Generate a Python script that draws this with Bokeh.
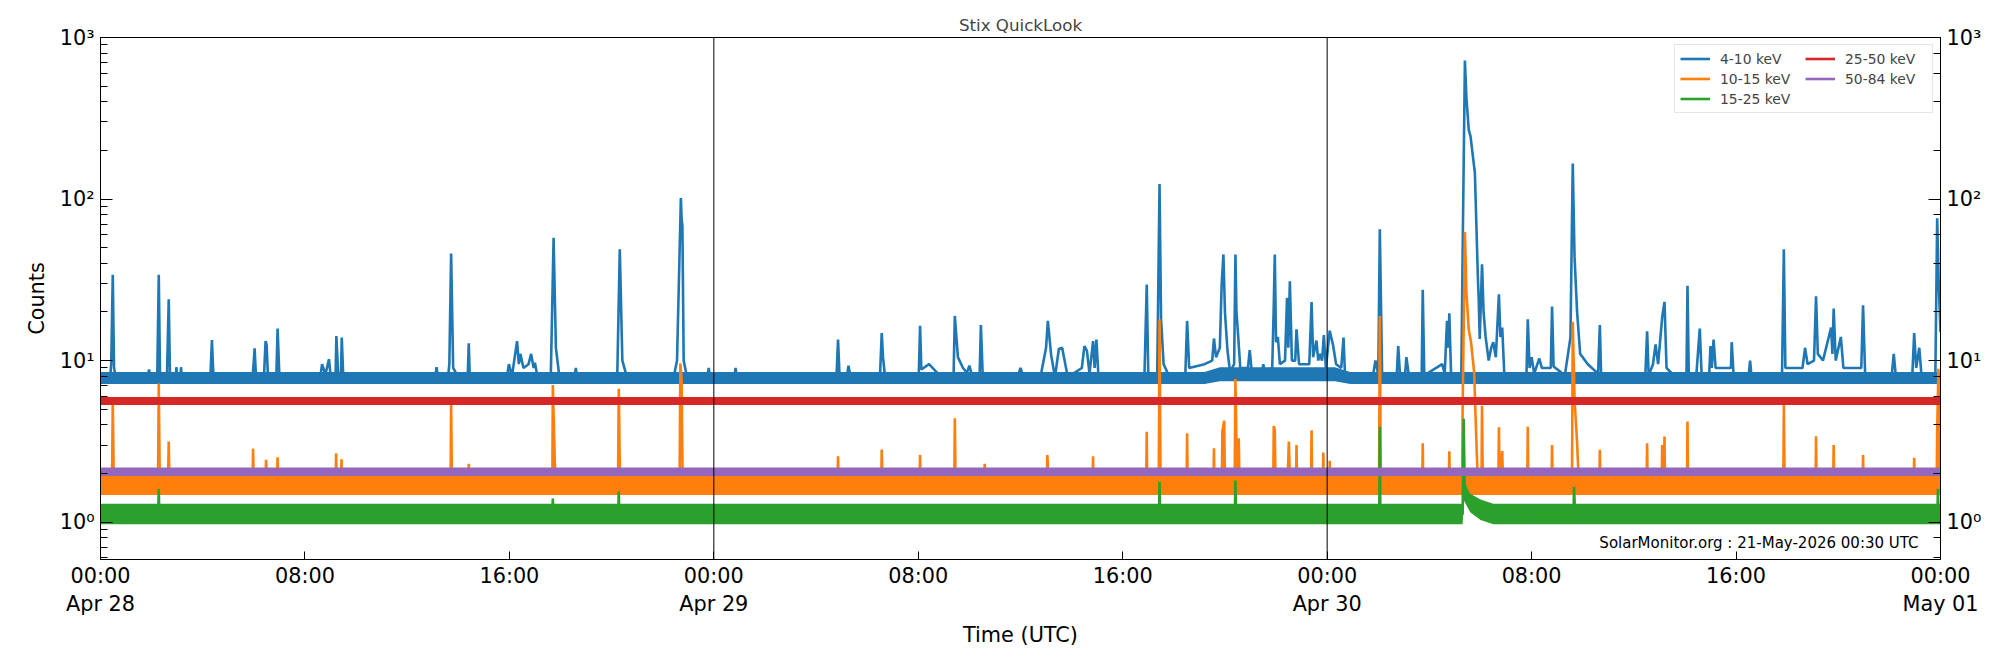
from bokeh.plotting import figure
from bokeh.models import (Range1d, LogAxis, FixedTicker, Span, Label, Legend,
                          LegendItem, CustomJSTickFormatter)
from bokeh.embed import file_html
from bokeh.resources import INLINE

# ---------------- data (hours since 2026-04-28 00:00 UTC, counts) ----------------
x_ticks = [0, 8, 16, 24, 32, 40, 48, 56, 64, 72]
x_tick_labels = ["00:00\nApr 28", "08:00", "16:00", "00:00\nApr 29", "08:00", "16:00",
                 "00:00\nApr 30", "08:00", "16:00", "00:00\nMay 01"]
day_bounds = [24, 48]
band_names = ["4-10 keV", "10-15 keV", "15-25 keV", "25-50 keV", "50-84 keV"]
band_colors = ["#1f77b4", "#ff7f0e", "#2ca02c", "#d62728", "#9467bd"]

# 4-10 keV
blue_t = [0, 0.38, 0.42, 0.48, 0.53, 0.6, 1.85, 1.9, 1.95, 2.22, 2.28, 2.33, 2.6, 2.67, 2.72,
          2.95, 2.97, 3.0, 3.13, 3.15, 3.18, 4.3, 4.36, 4.42, 5.95, 6.0, 6.03, 6.08, 6.4, 6.46,
          6.5, 6.55, 6.88, 6.93, 7.0, 8.6, 8.67, 8.8, 8.94, 9.0, 9.2, 9.23, 9.3, 9.41, 9.44,
          9.5, 13.1, 13.15, 13.2, 13.6, 13.65, 13.72, 13.8, 14.0, 14.37, 14.41, 14.45, 15.9,
          15.98, 16.1, 16.3, 16.37, 16.43, 16.55, 16.75, 16.85, 16.95, 17.0, 17.1, 17.62,
          17.73, 17.82, 17.95, 18.55, 18.6, 18.65, 20.22, 20.32, 20.42, 20.6, 22.45, 22.56,
          22.71, 22.74, 22.77, 22.82, 22.95, 23.75, 23.8, 23.85, 24.8, 24.85, 24.9,
          28.8, 28.86, 28.92, 29.2, 29.27, 29.35, 30.5, 30.57, 30.62, 30.7, 31.8, 32.02,
          32.07, 32.12, 32.42, 32.9, 33.38, 33.43, 33.55, 33.75, 33.9, 34.0, 34.1, 34.4,
          34.45, 34.52, 35.9, 36.0, 36.1, 36.8, 37.0, 37.07, 37.2, 37.35, 37.5, 37.63, 37.85,
          38.4, 38.5, 38.6, 38.7, 38.84, 38.9, 38.97, 39.05, 40.85, 40.94, 41.0, 41.35, 41.44,
          41.5, 41.6, 41.8, 42.45, 42.52, 42.6, 43.2, 43.5, 43.57, 43.65, 43.8, 43.87, 43.94,
          44.0, 44.1, 44.2, 44.36, 44.41, 44.45, 44.5, 44.6, 44.9, 44.97, 45.05, 45.45, 45.5,
          45.55, 45.85, 45.91, 45.95, 46.0, 46.07, 46.15, 46.35, 46.43, 46.48, 46.54, 46.62,
          46.75, 46.8, 46.9, 47.3, 47.39, 47.45, 47.58, 47.65, 47.71, 47.8, 47.87, 47.95,
          48.1, 48.23, 48.35, 48.55, 48.64, 48.7, 49.8, 49.89, 50.0, 50.06, 50.15, 50.3,
          50.72, 50.78, 50.85, 51.05, 51.1, 51.2, 51.7, 51.74, 51.8, 52.5, 52.6, 52.69,
          52.74, 52.78, 52.85, 53.25, 53.31, 53.39, 53.45, 53.54, 53.61, 53.78, 53.9, 53.93,
          53.97, 54.06, 54.12, 54.2, 54.32, 54.42, 54.5, 54.6, 54.72, 54.78, 54.85, 54.93,
          55.8, 55.85, 55.92, 56.0, 56.1, 56.3, 56.4, 56.75, 56.8, 56.86, 57.3, 57.52, 57.61,
          57.68, 57.78, 57.9, 58.2, 58.6, 58.67, 58.72, 60.45, 60.52, 60.58, 60.75, 60.85,
          60.95, 61.11, 61.2, 61.28, 61.6, 62.06, 62.1, 62.15, 62.45, 62.58, 62.65, 62.95,
          63.0, 63.05, 63.12, 63.2, 63.8, 63.83, 63.9, 64.5, 64.55, 64.6, 65.8, 65.87, 65.93,
          66.6, 66.7, 66.8, 67.05, 67.13, 67.2, 67.4, 67.72, 67.77, 67.82, 67.9, 68.1, 68.2,
          68.9, 68.97, 69.05, 70.1, 70.17, 70.25, 70.9, 70.97, 71.05, 71.17, 71.25, 71.8,
          71.87, 71.93, 72]
blue_v = [7.8, 8.0, 9.5, 34, 9, 7.8, 7.8, 8.8, 7.8, 7.9, 34, 7.9, 7.9, 24, 7.9,
          7.9, 9.1, 7.9, 7.9, 9.1, 7.8, 7.9, 13.4, 7.9, 7.9, 10, 11.9, 8.2, 8.2, 13.2,
          12.5, 8.1, 8.0, 15.8, 8.0, 7.9, 9.5, 8.2, 10.2, 8.2, 8.2, 14.2, 8.2, 8.2, 13.9,
          7.9, 7.9, 9.1, 7.9, 7.9, 9.5, 46, 9, 7.9, 7.9, 12.8, 7.9, 7.9,
          9.5, 8.0, 13.2, 9.5, 11, 9, 9.5, 11, 9, 9.7, 7.9, 8.0,
          57.5, 12, 8.1, 7.9, 9, 7.9, 7.9, 48.8, 10, 7.9, 8.2, 10,
          101.6, 75, 68, 10, 7.9, 7.9, 9, 7.9, 7.9, 9, 7.9,
          7.9, 13.5, 8.0, 7.9, 9.3, 7.9, 7.9, 14.8, 10.5, 7.9, 8.1, 8.2,
          16.4, 8.8, 9.5, 7.9, 7.9, 18.9, 10.5, 9, 8.4, 9.3, 8.1, 8.1,
          16.6, 8.2, 8.0, 9, 8.0, 8.2, 12, 17.6, 10.8, 7.9, 11.8, 12, 7.9,
          9, 12.3, 11.5, 8.3, 13.2, 9, 13.5, 8.0, 8.0, 29.6, 8.2, 8.2, 124,
          18, 9.5, 8.1, 8.2, 17.6, 9, 9.5, 10, 13.7, 10.5, 12, 29, 45.4,
          20, 11.5, 8.5, 9.5, 45.4, 20, 15.6, 9, 9, 11.6, 8.5, 8.5, 9.5,
          8.5, 9, 21.8, 45.4, 13, 14, 9.5, 10, 24.5, 12, 31, 10,
          10, 15.6, 9.5, 9.5, 23, 10.5, 13.3, 10, 11, 10, 14.4, 9,
          15.3, 12.5, 9.5, 9, 13.9, 8.0, 8.2, 10, 8.2, 65, 8.2, 7.9,
          8.0, 12.3, 8.2, 8.2, 10.5, 8.0, 8.1, 27.4, 8.1, 9.5, 8.3, 17.6,
          12, 19.6, 8.1, 8.3, 62, 720, 422, 268, 244, 145, 31.8, 24,
          13.6, 39.4, 20, 14, 10, 12, 13, 10.5, 25.7, 14, 16, 8.3,
          8.3, 18, 9, 10.5, 8.3, 10.3, 9, 9, 21.6, 9.2, 8.1, 13.9, 166,
          44, 20, 11, 9.5, 8.3, 16.6, 8.1, 8.1, 15.2, 8.1, 9.5, 12.6,
          9.5, 18.6, 23.1, 9, 8.0, 8.3, 29, 8.1, 8.3, 15.8, 8.3, 8.3,
          12.3, 9, 13.5, 9, 9, 13, 8.3, 8.3, 10, 8.1, 8.3, 48.8, 9,
          9, 12, 9.5, 10, 25, 11, 10, 16, 11, 21, 10, 14, 9,
          9, 22, 8.3, 8.3, 11, 8.1, 8.3, 14.8, 9, 12, 8.3, 8.3,
          76, 30, 15]

# 10-15 keV
orange_t = [0, 0.45, 0.48, 0.52, 2.25, 2.28, 2.32, 2.64, 2.67, 2.7, 5.95, 5.97, 6.0, 6.45,
            6.48, 6.51, 6.9, 6.93, 6.96, 9.2, 9.22, 9.25, 9.41, 9.43, 9.46, 13.7, 13.72,
            13.75, 14.39, 14.41, 14.43, 17.68, 17.7, 17.76, 17.8, 20.25, 20.28, 20.33, 22.66,
            22.69, 22.74, 22.78, 28.84, 28.86, 28.88, 30.55, 30.57, 30.6, 32.05, 32.07, 32.09,
            33.41, 33.43, 33.46, 34.58, 34.6, 34.62, 37.03, 37.05, 37.1, 38.82, 38.84, 38.86,
            40.92, 40.94, 40.96, 41.41, 41.44, 41.48, 42.5, 42.52, 42.54, 43.55, 43.57, 43.59,
            43.88, 43.9, 43.97, 44.0, 44.38, 44.41, 44.47, 44.54, 44.57, 45.89, 45.91, 45.95,
            45.98, 46.45, 46.5, 46.55, 46.78, 46.8, 46.82, 47.37, 47.39, 47.41, 47.83, 47.85,
            47.87, 48.08, 48.1, 48.12, 50.03, 50.06, 50.1, 51.72, 51.74, 51.76, 52.76, 52.78,
            52.8, 53.28, 53.3, 53.39, 53.45, 53.54, 53.63, 53.75, 53.85, 53.9, 54.04, 54.06,
            54.09, 54.7, 54.72, 54.75, 54.85, 54.88, 55.83, 55.85, 55.87, 56.78, 56.8, 56.82,
            57.58, 57.61, 57.68, 57.78, 57.85, 58.65, 58.67, 58.69, 60.5, 60.52, 60.54, 61.09,
            61.11, 61.13, 61.18, 61.2, 61.22, 62.08, 62.1, 62.12, 65.85, 65.87, 65.9, 67.11,
            67.13, 67.15, 67.8, 67.82, 67.84, 68.95, 68.97, 68.99, 70.95, 70.97, 70.99, 71.85,
            71.87, 71.92, 71.96, 72]
orange_v = [1.72, 1.72, 5.6, 1.72, 1.72, 7.2, 1.72, 1.72, 3.15, 1.72, 1.72, 2.85, 1.72, 1.72,
            2.43, 1.72, 1.72, 2.52, 1.72, 1.72, 2.67, 1.72, 1.72, 2.45, 1.72, 1.72, 5.7,
            1.72, 1.72, 2.3, 1.72, 1.72, 7.06, 3.0, 1.72, 1.72, 6.7, 1.72, 1.72,
            9.6, 7.4, 1.72, 1.72, 2.56, 1.72, 1.72, 2.81, 1.72, 1.72, 2.6, 1.72,
            1.72, 4.4, 1.72, 1.72, 2.3, 1.72, 1.72, 2.6, 1.72, 1.72, 2.56, 1.72,
            1.72, 3.63, 1.72, 1.72, 18.0, 1.72, 1.72, 3.55, 1.72, 1.72, 2.87, 1.72,
            1.72, 3.65, 4.25, 1.72, 1.72, 7.7, 2.0, 3.3, 1.72, 1.72, 3.93, 3.7,
            1.72, 1.72, 3.15, 1.72, 1.72, 3.0, 1.72, 1.72, 3.7, 1.72, 1.72, 2.7,
            1.72, 1.72, 2.4, 1.72, 1.72, 18.9, 1.72, 1.72, 3.08, 1.72, 1.72, 2.75,
            1.72, 1.72, 5.0, 62.4, 26.3, 15.6, 13, 8.5, 2.8, 1.72, 1.72, 5.26,
            1.72, 1.72, 3.87, 1.72, 2.75, 1.72, 1.72, 3.9, 1.72, 1.72, 3.0, 1.72,
            1.72, 17.4, 5.8, 3.1, 1.72, 1.72, 2.8, 1.72, 1.72, 3.08, 1.72, 1.72,
            3.0, 1.72, 1.72, 3.39, 1.72, 1.72, 4.19, 1.72, 1.72, 5.3, 1.72, 1.72,
            3.4, 1.72, 1.72, 3.0, 1.72, 1.72, 2.6, 1.72, 1.72, 2.5, 1.72, 1.72,
            3.7, 8.9, 1.72, 1.72]

# 15-25 keV
green_t = [0, 2.26, 2.28, 2.3, 17.68, 17.7, 17.72, 20.26, 20.28, 20.3, 41.42, 41.44, 41.46,
           44.39, 44.41, 44.43, 50.04, 50.06, 50.08, 53.3, 53.34, 53.38, 53.5, 53.8, 54.3,
           57.64, 57.66, 57.7, 71.88, 71.9, 71.92, 72]
green_v = [1.12, 1.12, 1.6, 1.12, 1.12, 1.4, 1.12, 1.12, 1.55, 1.12, 1.12, 1.78, 1.12,
           1.12, 1.8, 1.12, 1.12, 3.9, 1.12, 1.12, 4.36, 1.7, 1.45, 1.3, 1.15,
           1.12, 1.65, 1.12, 1.12, 1.6, 1.12, 1.12]

# 25-50 keV and 50-84 keV (flat)
red_t = [0, 72]
red_v = [5.6, 5.6]
purple_t = [0, 72]
purple_v = [2.05, 2.05]

# noise envelopes (low / high) of each band
env_t = [0, 72]
blue_env_t = [0, 43.2, 43.8, 48.3, 48.9, 72]
blue_lo = [7.15, 7.15, 7.45, 7.45, 7.15, 7.15]
blue_hi = [8.5, 8.5, 9.1, 9.1, 8.5, 8.5]
orange_lo, orange_hi = [1.47, 1.47], [1.95, 1.95]
red_lo, red_hi = [5.3, 5.3], [5.95, 5.95]
purple_lo, purple_hi = [1.93, 1.93], [2.18, 2.18]
green_env_t = [0, 53.3, 53.36, 53.6, 54.0, 54.5, 72]
green_lo = [0.97, 0.97, 1.35, 1.15, 1.03, 0.97, 0.97]
green_hi = [1.3, 1.3, 1.75, 1.5, 1.38, 1.3, 1.3]

watermark = "SolarMonitor.org : 21-May-2026 00:30 UTC"

# ---------------- figure ----------------
FONT = "DejaVu Sans"
p = figure(width=2000, height=650, y_axis_type="log",
           x_range=Range1d(0, 72), y_range=Range1d(0.587, 1000),
           output_backend="svg", toolbar_location=None,
           min_border_left=100, min_border_right=60, min_border_top=37, min_border_bottom=89)
p.title.text = "Stix QuickLook"
p.title.align = "center"
p.title.text_font = FONT
p.title.text_font_size = "16.7px"
p.title.text_font_style = "normal"
p.title.standoff = 6

p.xgrid.visible = False
p.ygrid.visible = False
p.outline_line_color = "black"
p.outline_line_width = 1
p.background_fill_color = "white"
p.border_fill_color = "white"

series = [
    (blue_t, blue_v, blue_env_t, blue_lo, blue_hi),
    (orange_t, orange_v, env_t, orange_lo, orange_hi),
    (green_t, green_v, green_env_t, green_lo, green_hi),
    (red_t, red_v, env_t, red_lo, red_hi),
    (purple_t, purple_v, env_t, purple_lo, purple_hi),
]
items = []
for (t, v, et, lo, hi), name, col in zip(series, band_names, band_colors):
    p.varea(x=et, y1=lo, y2=hi, fill_color=col, fill_alpha=1.0)
    r = p.line(t, v, line_color=col, line_width=2.6)
    items.append(LegendItem(label=name, renderers=[r]))

for d in day_bounds:
    p.add_layout(Span(location=d, dimension="height", line_color="black", line_width=1))

# axes
sup_js = """
const s = {"-1":"\u207b\u00b9","0":"\u2070","1":"\u00b9","2":"\u00b2","3":"\u00b3","4":"\u2074"};
const e = Math.round(Math.log10(tick));
return "10" + s[String(e)];
"""
ax = p.xaxis[0]
ax.ticker = FixedTicker(ticks=x_ticks, minor_ticks=[])
ax.major_label_overrides = {t: lab for t, lab in zip(x_ticks, x_tick_labels)}
ax.axis_label = "Time (UTC)"

yl = p.yaxis[0]
yl.axis_label = "Counts"
yl.formatter = CustomJSTickFormatter(code=sup_js)

yr = LogAxis(formatter=CustomJSTickFormatter(code=sup_js))
p.add_layout(yr, "right")

for a in [ax, yl, yr]:
    a.axis_line_color = "black"
    a.axis_line_width = 1
    a.major_tick_line_color = "black"
    a.minor_tick_line_color = "black"
    a.major_tick_out = 0
    a.minor_tick_out = 0
    a.major_label_text_font = FONT
    a.major_label_text_font_size = "20.8px"
    a.major_label_text_color = "black"
    a.axis_label_text_font = FONT
    a.axis_label_text_font_size = "20.8px"
    a.axis_label_text_font_style = "normal"
    a.axis_label_text_color = "black"
ax.major_tick_in = 8
ax.major_label_standoff = 4
ax.axis_label_standoff = 4
for a in [yl, yr]:
    a.major_tick_in = 12
    a.minor_tick_in = 7
    a.major_label_standoff = 6
yl.axis_label_standoff = 8

legend = Legend(items=items, location="top_right", nrows=3, margin=7, padding=5,
                spacing=3, glyph_width=30, glyph_height=17, label_standoff=10,
                label_width=82,
                label_text_font=FONT, label_text_font_size="13.9px",
                border_line_color="#cccccc", border_line_width=1,
                background_fill_alpha=0.8)
p.add_layout(legend, "center")

p.add_layout(Label(x=71.14, y=0.745, text=watermark, text_align="right",
                   text_baseline="middle", text_font=FONT, text_font_size="15px",
                   text_color="black"))

open("out.html", "w").write(file_html(p, INLINE))
